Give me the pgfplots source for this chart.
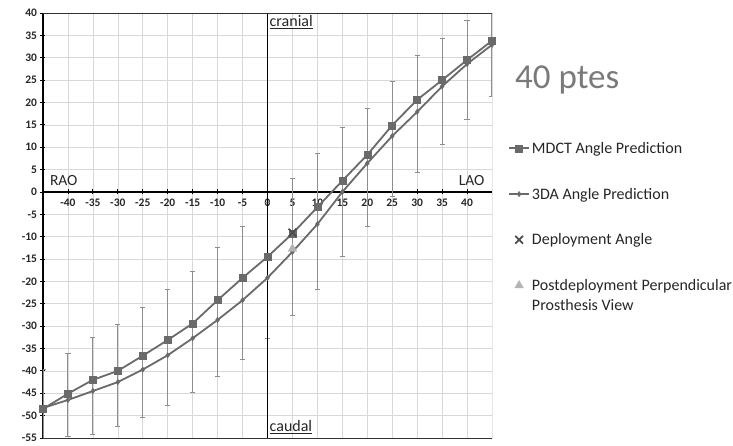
\documentclass[border=0pt]{standalone}
\usepackage{fontspec}
\setmainfont{Carlito}
\usepackage{pgfplots}
\pgfplotsset{compat=1.18}
\definecolor{lineg}{HTML}{6A6A6A}
\definecolor{errg}{HTML}{8E8E8E}
\definecolor{gridg}{HTML}{D8D8D8}
\definecolor{trig}{HTML}{B4B4B4}
\definecolor{txt}{HTML}{262626}
\begin{document}
\begin{tikzpicture}[x=1pt,y=1pt]
\path (0,0) rectangle (733,443);
\begin{axis}[
  at={(43pt,5pt)}, anchor=south west,
  scale only axis, width=449pt, height=425pt,
  xmin=-45, xmax=45, ymin=-55, ymax=40,
  axis x line=middle, axis y line=left,
  axis line style={-, line width=1.1pt, color=black},
  xtick={-40,-35,...,40}, ytick={-55,-50,...,40},
  grid=major, grid style={gridg, line width=0.6pt},
  tick align=center, major tick length=5pt,
  tick style={black, line width=0.8pt},
  /pgf/number format/assume math mode=true,
  ticklabel style={font=\fontsize{11.5}{12}\selectfont\bfseries, text=txt},
  xticklabel style={yshift=-1pt},
  legend image code/.code={\draw[mark repeat=2,mark phase=2] plot coordinates {(0pt,0pt) (10pt,0pt) (20pt,0pt)};},
  legend style={at={(axis description cs:1.0356,0.6984)}, anchor=north west,
    draw=none, fill=none, font=\fontsize{16}{20}\selectfont, text=txt,
    inner xsep=0pt, inner ysep=0pt, column sep=2pt,
    nodes={inner sep=0pt, text height=12pt, text depth=2pt},
    row sep=31.7pt, cells={anchor=west}},
  legend cell align=left,
]
% error bars
\addplot[forget plot, draw=none, mark=none, errg,
  error bars/.cd, y dir=both, y explicit,
  error bar style={errg, line width=1.1pt},
  error mark options={errg, rotate=90, mark size=2.6pt, line width=0.9pt}]
coordinates {
(-45,-48.8) +- (0,9.2)
(-40,-45.45) +- (0,9.25)
(-35,-43.35) +- (0,10.75)
(-30,-41.05) +- (0,11.35)
(-25,-38.1) +- (0,12.3)
(-20,-34.75) +- (0,12.95)
(-15,-31.25) +- (0,13.55)
(-10,-26.9) +- (0,14.4)
(-5,-22.6) +- (0,14.9)
(0,-17.55) +- (0,15.25)
(5,-12.3) +- (0,15.3)
(10,-6.6) +- (0,15.1)
(15,-0.05) +- (0,14.45)
(20,5.45) +- (0,13.15)
(25,11.95) +- (0,12.85)
(30,17.4) +- (0,13.1)
(35,22.45) +- (0,11.85)
(40,27.25) +- (0,11.05)
(45,33.15) +- (0,11.85)
};
\draw[black, line width=1.3pt] (axis cs:0,-55) -- (axis cs:0,40);
\addplot[lineg, line width=1.8pt, mark=square*, mark size=3.5pt,
  mark options={fill=lineg, line width=0.5pt}]
coordinates {
(-45,-48.5) (-40,-45.1) (-35,-42.0) (-30,-40.0) (-25,-36.6) (-20,-33.1)
(-15,-29.4) (-10,-24.2) (-5,-19.2) (0,-14.5) (5,-9.3) (10,-3.4)
(15,2.5) (20,8.3) (25,14.9) (30,20.6) (35,25.0) (40,29.5) (45,33.8)
};
\addlegendentry{MDCT Angle Prediction}
\addplot[lineg, line width=1.8pt, mark=diamond*, mark size=2.6pt,
  mark options={fill=lineg, line width=0.5pt}]
coordinates {
(-45,-48.3) (-40,-46.5) (-35,-44.5) (-30,-42.5) (-25,-39.7) (-20,-36.5)
(-15,-32.7) (-10,-28.6) (-5,-24.2) (0,-19.2) (5,-13.4) (10,-7.2)
(15,0.0) (20,6.4) (25,12.5) (30,17.9) (35,23.6) (40,28.6) (45,32.9)
};
\addlegendentry{3DA Angle Prediction}
\addplot[only marks, mark=x, mark size=5.5pt, color=black!70,
  mark options={line width=1.8pt}]
coordinates {(5,-9.1)};
\addlegendentry{Deployment Angle}
\addplot[only marks, mark=triangle*, mark size=5pt, color=trig,
  mark options={fill=trig}]
coordinates {(5,-12.7)};
\addlegendentry{\begin{tabular}[t]{@{}l@{}}Postdeployment Perpendicular\\Prosthesis View\end{tabular}}
\draw[black!80, line width=1pt] (rel axis cs:0,0) rectangle (rel axis cs:1,1);
\node[anchor=west, font=\fontsize{15.5}{16}\selectfont, text=txt] at (axis cs:-44.3,2.6) {RAO};
\node[anchor=east, font=\fontsize{15.5}{16}\selectfont, text=txt] at (axis cs:44.2,2.6) {LAO};
\node[anchor=west, font=\fontsize{16}{18}\selectfont, text=txt, inner sep=1pt] at (axis cs:0.2,38) {\underline{cranial}};
\node[anchor=west, font=\fontsize{16}{18}\selectfont, text=txt, inner sep=1pt] at (axis cs:0.2,-52.6) {\underline{caudal}};
\end{axis}
\node[anchor=base west, font=\fontsize{35}{38}\selectfont, text=black!52, inner sep=0pt] at (515,354) {40 ptes};
\end{tikzpicture}
\end{document}
